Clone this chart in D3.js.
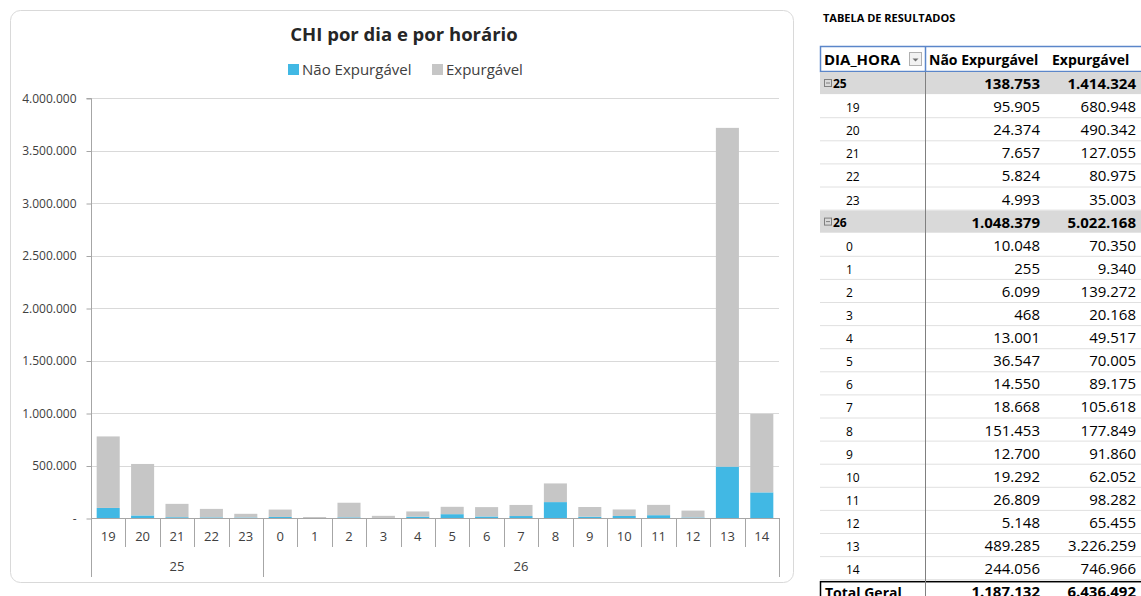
<!DOCTYPE html>
<meta charset="utf-8">
<script src="https://d3js.org/d3.v7.min.js"></script>
<style>
body { margin: 0; background: #fff; font-family: "Open Sans", "Noto Sans", sans-serif; }
</style>
<div id="my_dataviz"></div>
<script>

var days = ["25", "26"];
var hours = [["19", "20", "21", "22", "23"],
             ["0", "1", "2", "3", "4", "5", "6", "7", "8", "9", "10", "11", "12", "13", "14"]];
var naoExpurgavel = [[95905, 24374, 7657, 5824, 4993],
                     [10048, 255, 6099, 468, 13001, 36547, 14550, 18668, 151453, 12700, 19292, 26809, 5148, 489285, 244056]];
var expurgavel = [[680948, 490342, 127055, 80975, 35003],
                  [70350, 9340, 139272, 20168, 49517, 70005, 89175, 105618, 177849, 91860, 62052, 98282, 65455, 3226259, 746966]];
// subtotals as printed in the table (source rounding)
var dayTotalsNao = [138753, 1048379];
var dayTotalsExp = [1414324, 5022168];
var grandTotals = [1187132, 6436492];
var yTicks = [0, 500000, 1000000, 1500000, 2000000, 2500000, 3000000, 3500000, 4000000];
var seriesNames = ["Não Expurgável", "Expurgável"];
var seriesColors = ["#41b8e4", "#c6c6c6"];

var locale = d3.formatLocale({decimal: ",", thousands: ".", grouping: [3], currency: ["", ""]});
var fmt = locale.format(",d");

// flatten
var data = [];
days.forEach(function(d, i) {
  hours[i].forEach(function(h, j) {
    data.push({day: d, hour: h, key: d + "_" + h, nao: naoExpurgavel[i][j], exp: expurgavel[i][j]});
  });
});

var svg = d3.select("#my_dataviz").append("svg")
  .attr("width", 1141).attr("height", 596);

// chart frame
svg.append("rect")
  .attr("x", 10.5).attr("y", 10.5).attr("width", 783).attr("height", 572)
  .attr("rx", 10).attr("fill", "#fff").attr("stroke", "#d9d9d9");

svg.append("text")
  .attr("x", 404).attr("y", 41).attr("text-anchor", "middle")
  .style("font-size", "18.5px").style("font-weight", "bold").style("fill", "#262626")
  .text("CHI por dia e por horário");

// legend
var legendX = [288, 432];
seriesNames.forEach(function(s, i) {
  svg.append("rect").attr("x", legendX[i]).attr("y", 64).attr("width", 11).attr("height", 11)
    .attr("fill", seriesColors[i]);
  svg.append("text").attr("x", legendX[i] + 14).attr("y", 75)
    .style("font-size", "15px").style("fill", "#404040").text(s);
});

var pLeft = 91, pRight = 779, pTop = 98, pBottom = 518;

var x = d3.scaleBand().domain(data.map(function(d) { return d.key; }))
  .range([pLeft, pRight]).paddingInner(0.33).paddingOuter(0.165);
var xStep = (pRight - pLeft) / data.length;

var y = d3.scaleLinear().domain([0, 4000000]).range([pBottom, pTop]);

// gridlines
svg.append("g").selectAll("line").data(yTicks.slice(1)).enter().append("line")
  .attr("x1", pLeft).attr("x2", pRight)
  .attr("y1", function(d) { return Math.round(y(d)) + 0.5; })
  .attr("y2", function(d) { return Math.round(y(d)) + 0.5; })
  .attr("stroke", "#d9d9d9");

// y axis
var yAxis = svg.append("g").attr("transform", "translate(" + (pLeft + 0.5) + ",0.5)")
  .call(d3.axisLeft(y).tickValues(yTicks).tickSize(5).tickPadding(10)
    .tickFormat(function(d) { return d === 0 ? "-" : fmt(d); }));
yAxis.select(".domain").attr("stroke", "#a6a6a6").attr("d", "M-5," + pTop + "H0V" + pBottom);
yAxis.selectAll(".tick line").attr("stroke", "#a6a6a6");
yAxis.selectAll("text").style("font-family", "Open Sans").style("font-size", "12px").style("fill", "#404040");

// stacked bars
var stack = d3.stack().keys(["nao", "exp"])(data);
svg.append("g").selectAll("g").data(stack).enter().append("g")
  .attr("fill", function(d, i) { return seriesColors[i]; })
  .selectAll("rect").data(function(d) { return d; }).enter().append("rect")
    .attr("x", function(d) { return x(d.data.key); })
    .attr("width", x.bandwidth())
    .attr("y", function(d) { return y(d[1]); })
    .attr("height", function(d) { return y(d[0]) - y(d[1]); });

// x axis: baseline, hour labels, day groups
svg.append("line").attr("x1", pLeft).attr("x2", pRight).attr("y1", pBottom + 0.5).attr("y2", pBottom + 0.5)
  .attr("stroke", "#a6a6a6");

var xg = svg.append("g");
data.forEach(function(d, i) {
  var cx = pLeft + xStep * (i + 0.5);
  xg.append("text").attr("x", cx).attr("y", 541).attr("text-anchor", "middle")
    .style("font-size", "13px").style("fill", "#404040").text(d.hour);
});
// separators
var start = 0;
days.forEach(function(d, i) {
  var n = hours[i].length;
  for (var j = 1; j < n; j++) {
    var sx = Math.round(pLeft + xStep * (start + j)) + 0.5;
    xg.append("line").attr("x1", sx).attr("x2", sx).attr("y1", pBottom).attr("y2", 547).attr("stroke", "#a6a6a6");
  }
  var gx = Math.round(pLeft + xStep * start) + 0.5;
  xg.append("line").attr("x1", gx).attr("x2", gx).attr("y1", pBottom).attr("y2", 577).attr("stroke", "#a6a6a6");
  xg.append("text").attr("x", pLeft + xStep * (start + n / 2)).attr("y", 571).attr("text-anchor", "middle")
    .style("font-size", "13px").style("fill", "#404040").text(d);
  start += n;
});
xg.append("line").attr("x1", pRight + 0.5).attr("x2", pRight + 0.5).attr("y1", pBottom).attr("y2", 577).attr("stroke", "#a6a6a6");

// ---- pivot table ----
var tx0 = 820, tx1 = 925, tx2 = 1045, tx3 = 1141;
var t = svg.append("g");
t.append("text").attr("x", 823).attr("y", 22)
  .style("font-size", "11px").style("font-weight", "bold").style("fill", "#000").text("TABELA DE RESULTADOS");

var rowH = 23.1, headTop = 46, bodyTop = 72;
var rows = [];
days.forEach(function(d, i) {
  rows.push({label: d, group: true, nao: dayTotalsNao[i], exp: dayTotalsExp[i]});
  hours[i].forEach(function(h, j) {
    rows.push({label: h, group: false, nao: naoExpurgavel[i][j], exp: expurgavel[i][j]});
  });
});
rows.push({label: "Total Geral", total: true, nao: grandTotals[0], exp: grandTotals[1]});

// header
t.append("rect").attr("x", tx0 + 0.5).attr("y", headTop + 0.5).attr("width", 340).attr("height", bodyTop - headTop - 1)
  .attr("fill", "#fff").attr("stroke", "#5b86c9").attr("stroke-width", 1.5);
t.append("text").attr("x", 824).attr("y", 65).style("font-size", "15px").style("font-weight", "bold").text("DIA_HORA");
t.append("rect").attr("x", 909.5).attr("y", 52.5).attr("width", 12).attr("height", 13)
  .attr("fill", "#f2f2f2").attr("stroke", "#b0b0b0");
t.append("path").attr("d", "M912.5,58.5h6l-3,3z").attr("fill", "#707070");
t.append("line").attr("x1", tx1 + 0.5).attr("x2", tx1 + 0.5).attr("y1", headTop).attr("y2", bodyTop).attr("stroke", "#5b86c9").attr("stroke-width", 1.5);
t.append("text").attr("x", 929).attr("y", 65).style("font-size", "14px").style("font-weight", "bold").text(seriesNames[0]);
t.append("text").attr("x", 1052).attr("y", 65).style("font-size", "14px").style("font-weight", "bold").text(seriesNames[1]);

rows.forEach(function(r, i) {
  var ry = bodyTop + i * rowH;
  if (r.group) {
    t.append("rect").attr("x", tx0).attr("y", ry).attr("width", tx3 - tx0).attr("height", rowH - 1).attr("fill", "#d9d9d9");
    t.append("rect").attr("x", 824.5).attr("y", ry + 7.5).attr("width", 7).attr("height", 7)
      .attr("fill", "none").attr("stroke", "#808080");
    t.append("line").attr("x1", 826).attr("x2", 830).attr("y1", ry + 11).attr("y2", ry + 11).attr("stroke", "#808080");
    t.append("text").attr("x", 833).attr("y", ry + 16).style("font-size", "12px").style("font-weight", "bold").text(r.label);
  } else if (r.total) {
    t.append("rect").attr("x", tx0 + 0.5).attr("y", ry + 1.5).attr("width", 340).attr("height", rowH)
      .attr("fill", "none").attr("stroke", "#000").attr("stroke-width", 1.5);
    t.append("text").attr("x", 825).attr("y", ry + 18).style("font-size", "14px").style("font-weight", "bold").text(r.label);
  } else {
    t.append("line").attr("x1", tx0).attr("x2", tx3).attr("y1", ry + rowH - 0.5).attr("y2", ry + rowH - 0.5).attr("stroke", "#e0e0e0");
    t.append("text").attr("x", 846).attr("y", ry + 17).style("font-size", "12px").text(r.label);
  }
  var bold = r.group || r.total;
  t.append("text").attr("x", tx2 - 5).attr("y", ry + 17).attr("text-anchor", "end")
    .style("font-size", "15px").style("font-weight", bold ? "bold" : "normal").text(fmt(r.nao));
  t.append("text").attr("x", tx3 - 5).attr("y", ry + 17).attr("text-anchor", "end")
    .style("font-size", "15px").style("font-weight", bold ? "bold" : "normal").text(fmt(r.exp));
});
t.append("line").attr("x1", tx1 + 0.5).attr("x2", tx1 + 0.5).attr("y1", bodyTop).attr("y2", 596).attr("stroke", "#808080");
</script>
